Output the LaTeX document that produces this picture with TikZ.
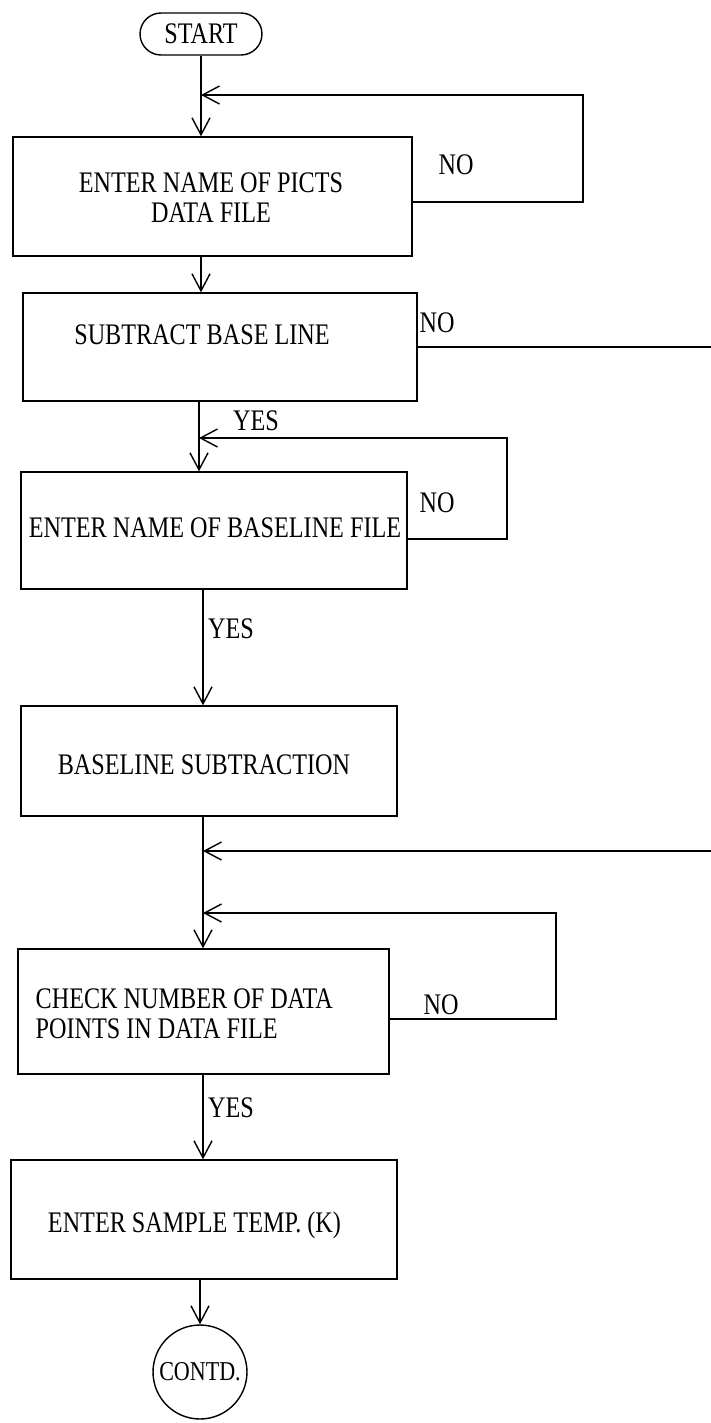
\documentclass[tikz,border=0pt]{standalone}
\usepackage{fontspec}
\setmainfont{Liberation Serif}[FakeStretch=0.81]
\usetikzlibrary{arrows.meta}

\begin{document}
\begin{tikzpicture}[x=0.02cm,y=-0.02cm,line width=0.8pt,
    font=\fontsize{17}{17}\selectfont,
    box/.style={draw,rectangle,inner sep=0pt},
    txt/.style={inner sep=0pt},
    flow/.style={-{Straight Barb[length=3.4mm,width=3.6mm,line width=0.8pt]}}]
    \useasboundingbox (0,0) rectangle (710,1423);

    \node[draw,rounded corners=0.42cm,minimum width=2.44cm,minimum height=0.84cm] (start) at (201,34) {START};

    \node[box,minimum width=7.98cm,minimum height=2.38cm] (pict) at (212.5,196.5) {};
    \node[txt,align=center] (picttxt) at (211,198) {ENTER NAME OF PICTS\\DATA FILE};

    \node[box,minimum width=7.88cm,minimum height=2.16cm] (base) at (220,347) {};
    \node[txt] (basetxt) at (202,335) {SUBTRACT BASE LINE};

    \node[box,minimum width=7.72cm,minimum height=2.34cm] (bfile) at (214,530.5) {};
    \node[txt] (bfiletxt) at (215,528) {ENTER NAME OF BASELINE FILE};

    \node[box,minimum width=7.52cm,minimum height=2.2cm] (bsub) at (209,761) {};
    \node[txt] (bsubtxt) at (204,765) {BASELINE SUBTRACTION};

    \node[box,minimum width=7.42cm,minimum height=2.5cm] (check) at (203.5,1011.5) {};
    \node[txt,align=left,anchor=west] (checktxt) at (35,1013.5) {CHECK NUMBER OF DATA\\POINTS IN DATA FILE};

    \node[box,minimum width=7.72cm,minimum height=2.38cm] (temp) at (204,1219.5) {};
    \node[txt] (temptxt) at (194.5,1225) {ENTER SAMPLE TEMP. (K)};

    \node[draw,circle,minimum size=1.88cm,inner sep=0pt,font=\fontsize{15.5}{17}\selectfont] (contd) at (200,1372) {CONTD.};

    \coordinate (j1) at (201,95);
    \coordinate (j2) at (199,438);
    \coordinate (j3) at (203,851);
    \coordinate (j4) at (203,913);

    \draw[flow] (start) -- (start |- pict.north);
    \draw[flow] (pict.south -| start) -- (base.north -| start);
    \draw[flow] (base.south -| j2) -- (bfile.north -| j2);
    \draw[flow] (bfile.south -| j3) -- (bsub.north -| j3);
    \draw[flow] (bsub.south -| j3) -- (check.north -| j3);
    \draw[flow] (check.south -| j3) -- (temp.north -| j3);
    \draw[flow] (temp.south -| contd) -- (contd);

    \draw[flow] ([yshift=-0.11cm]pict.east) -| (583,95) -- (j1);
    \draw[flow] (base.east) -| (730,851) -- (j3);
    \draw[flow] ([yshift=-0.17cm]bfile.east) -| (507,438) -- (j2);
    \draw[flow] ([yshift=-0.15cm]check.east) -| (556,913) -- (j4);

    \node[txt] (no1) at (456,165) {NO};
    \node[txt] (no2) at (437,323) {NO};
    \node[txt] (no3) at (437,503) {NO};
    \node[txt] (no4) at (441,1005) {NO};
    \node[txt] (yes1) at (256,421) {YES};
    \node[txt] (yes2) at (231,629) {YES};
    \node[txt] (yes3) at (231,1108) {YES};

\end{tikzpicture}
\end{document}
